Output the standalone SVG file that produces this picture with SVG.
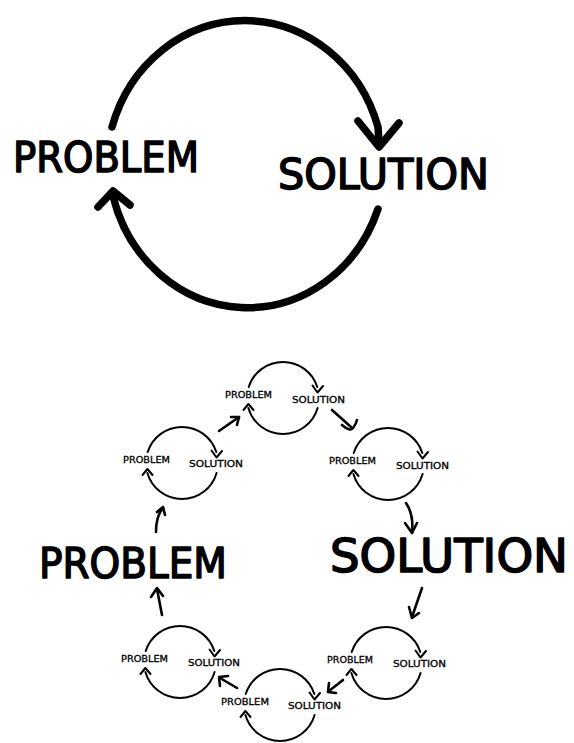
<svg xmlns="http://www.w3.org/2000/svg" xmlns:xlink="http://www.w3.org/1999/xlink" width="574" height="743" viewBox="0 0 574 743">
<style>
.ln{fill:none;stroke:#000;stroke-linecap:round;stroke-linejoin:round}
.big{stroke-width:7.5}
.sm{stroke-width:2}
.ar{stroke-width:2.6}
.bt{font-family:"DejaVu Sans","Liberation Sans",sans-serif;fill:#000;stroke:#000;stroke-width:1.6;stroke-linejoin:round;stroke-linecap:round}
.st{font-family:"DejaVu Sans","Liberation Sans",sans-serif;font-size:9px;fill:#000;stroke:#000;stroke-width:0.3}
</style>
<defs>
<g id="cyc" class="ln sm">
<path d="M-34.3,-11 A36,36 0 0 1 34.3,-11"/>
<path d="M29.5,-12.5 L34.5,-5.5 L40,-12"/>
<path d="M34.6,10 A36,36 0 0 1 -34.6,10"/>
<path d="M-39.5,12 L-34.6,6 L-29.5,12"/>
</g>
</defs>
<rect width="574" height="743" fill="#fff"/>

<g id="big-cycle">
<g class="ln big">
<path d="M112,127 A139,150 0 0 1 378,127 L379,142"/>
<path d="M358,121 L379,147 L399,123"/>
<path d="M378,209 A139,150 0 0 1 113,196"/>
<path d="M98,207 L113,191 L130,205"/>
</g>
<text class="bt" x="13" y="172" font-size="42" textLength="186" lengthAdjust="spacingAndGlyphs">PROBLEM</text>
<text class="bt" x="278" y="189" font-size="43" textLength="211" lengthAdjust="spacingAndGlyphs">SOLUTION</text>
</g>

<g id="big-problem">
<text class="bt" x="39" y="578" font-size="43" textLength="188" lengthAdjust="spacingAndGlyphs">PROBLEM</text>
</g>
<g id="big-solution">
<text class="bt" x="330" y="572" font-size="46" textLength="238" lengthAdjust="spacingAndGlyphs">SOLUTION</text>
</g>

<g id="cycle-left" transform="translate(182,463)">
<use xlink:href="#cyc"/>
<text class="st" x="-59" y="0" textLength="47" lengthAdjust="spacingAndGlyphs">PROBLEM</text>
<text class="st" x="7" y="4" textLength="54" lengthAdjust="spacingAndGlyphs">SOLUTION</text>
</g>
<g id="cycle-top" transform="translate(283,398)">
<use xlink:href="#cyc"/>
<text class="st" x="-58" y="0" textLength="47" lengthAdjust="spacingAndGlyphs">PROBLEM</text>
<text class="st" x="9" y="5" textLength="53" lengthAdjust="spacingAndGlyphs">SOLUTION</text>
</g>
<g id="cycle-right" transform="translate(388,464)">
<use xlink:href="#cyc"/>
<text class="st" x="-59" y="0" textLength="47" lengthAdjust="spacingAndGlyphs">PROBLEM</text>
<text class="st" x="8" y="5" textLength="53" lengthAdjust="spacingAndGlyphs">SOLUTION</text>
</g>
<g id="cycle-lower-left" transform="translate(180,662)">
<use xlink:href="#cyc"/>
<text class="st" x="-59" y="0" textLength="47" lengthAdjust="spacingAndGlyphs">PROBLEM</text>
<text class="st" x="8" y="4" textLength="52" lengthAdjust="spacingAndGlyphs">SOLUTION</text>
</g>
<g id="cycle-lower-right" transform="translate(386,663)">
<use xlink:href="#cyc"/>
<text class="st" x="-59" y="0" textLength="46" lengthAdjust="spacingAndGlyphs">PROBLEM</text>
<text class="st" x="7" y="4" textLength="53" lengthAdjust="spacingAndGlyphs">SOLUTION</text>
</g>
<g id="cycle-bottom" transform="translate(280,705)">
<use xlink:href="#cyc"/>
<text class="st" x="-59" y="0" textLength="48" lengthAdjust="spacingAndGlyphs">PROBLEM</text>
<text class="st" x="8" y="4" textLength="53" lengthAdjust="spacingAndGlyphs">SOLUTION</text>
</g>

<g id="connectors" class="ln ar">
<path d="M162,615 L157,589"/><path d="M151,597 L157,588 L163,596"/>
<path d="M156,532 Q156,516 163,508"/><path d="M157,512 L163,507 L165,515"/>
<path d="M219,431 L239,417"/><path d="M231,417 L239,417 L237,425"/>
<path d="M332,410 L351,427"/><path d="M342,425 Q350,432 353,428 Q356,424 357,420"/>
<path d="M406,503 Q414,515 412,533"/><path d="M405,523 L412,533 L417,523"/>
<path d="M422,588 L412,617"/><path d="M409,607 L412,618 L419,613"/>
<path d="M343,680 L329,691"/><path d="M329,683 L328,692 L336,693"/>
<path d="M237,688 L220,678"/><path d="M220,686 L219,677 L228,676"/>
</g>
</svg>
